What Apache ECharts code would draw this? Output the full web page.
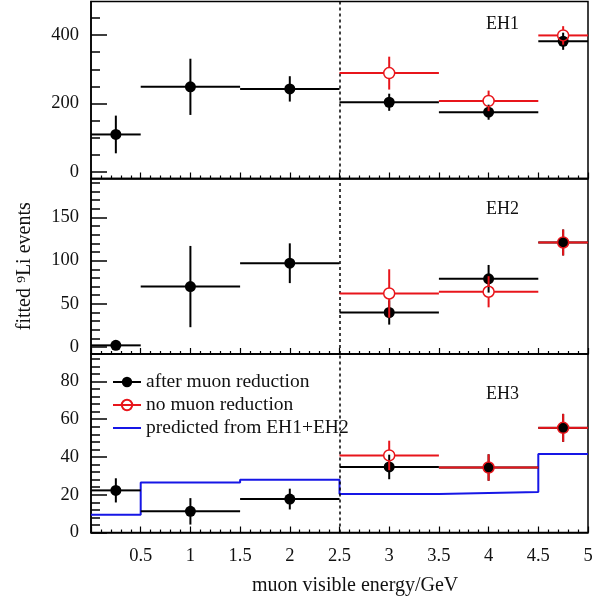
<!DOCTYPE html>
<html>
<head>
<meta charset="utf-8">
<script src="https://cdn.jsdelivr.net/npm/echarts@6/dist/echarts.min.js"></script>
<style>html,body{margin:0;padding:0;background:#fff;}#c{width:611px;height:600px;}</style>
</head>
<body>
<div id="c"></div>
<script>
// ---- data ----
const binLo = [0, 0.5, 1.5, 2.5, 3.5, 4.5];
const binHi = [0.5, 1.5, 2.5, 3.5, 4.5, 5];
const binCenter = [0.25, 1, 2, 3, 4, 4.75];

const eh1After = [110, 249, 243, 204, 175, 382];
const eh1AfterErr = [55, 82, 37, 25, 22, 25];
const eh1No = [null, null, null, 289, 208, 399];
const eh1NoErr = [null, null, null, 48, 30, 27];

const eh2After = [2, 70, 97, 40, 79, 121];
const eh2AfterErr = [3, 47, 23, 14, 16, 15];
const eh2No = [null, null, null, 62, 64, 121];
const eh2NoErr = [null, null, null, 28, 18, 15];

const eh3After = [22.3, 11.2, 17.7, 34.7, 34.4, 55.4];
const eh3AfterErr = [6.4, 7, 5.5, 6.5, 7, 7.4];
const eh3No = [null, null, null, 40.8, 34.4, 55.4];
const eh3NoErr = [null, null, null, 7.8, 7, 7.4];

const predEdges = [0, 0.5, 1.5, 2.5, 3.5, 4.5, 5];
const predEH3 = [9.4, 26.5, 27.9, 20.4, 21.4, 41.5, 41.5];

const panelLabels = ['EH1', 'EH2', 'EH3'];
const dividerX = 2.5;
const xTickLabels = ['0.5', '1', '1.5', '2', '2.5', '3', '3.5', '4', '4.5', '5'];

const yRanges = [[-18.5, 498], [-8, 195], [0, 94.5]];
const yMajor = [[0, 200, 400], [0, 50, 100, 150], [0, 20, 40, 60, 80]];
const yMinorStep = [50, 10, 4];

const NAME_A = 'after muon reduction';
const NAME_N = 'no muon reduction';
const NAME_P = 'predicted from EH1+EH2';
const BLACK = '#000000', RED = '#e8151b', BLUE = '#1616e6';
const FONT = 'Liberation Serif';

// ---- layout ----
const grids = [
  {left: 91, right: 23, top: 1.5, height: 177},
  {left: 91, right: 23, top: 178.5, height: 175.5},
  {left: 91, right: 23, top: 354, height: 178.5}
];

function errRender(color, gap) {
  return function (params, api) {
    const x = api.value(0), y = api.value(1), xl = api.value(2), xh = api.value(3), e = api.value(4);
    const c = api.coord([x, y]);
    const l = api.coord([xl, y]);
    const h = api.coord([xh, y]);
    const t = api.coord([x, y + e]);
    const b = api.coord([x, y - e]);
    const st = {stroke: color, lineWidth: 2};
    const segs = [];
    function add(x1, y1, x2, y2) {
      if (Math.abs(x2 - x1) + Math.abs(y2 - y1) > 0.5)
        segs.push({type: 'line', shape: {x1: x1, y1: y1, x2: x2, y2: y2}, style: st});
    }
    add(l[0], c[1], c[0] - gap, c[1]);
    add(c[0] + gap, c[1], h[0], c[1]);
    if (t[1] < c[1] - gap) add(c[0], t[1], c[0], c[1] - gap);
    if (b[1] > c[1] + gap) add(c[0], c[1] + gap, c[0], b[1]);
    return {type: 'group', children: segs};
  };
}

function errData(vals, errs) {
  const out = [];
  for (let i = 0; i < vals.length; i++) {
    if (vals[i] == null) continue;
    out.push([binCenter[i], vals[i], binLo[i], binHi[i], errs[i]]);
  }
  return out;
}
function ptData(vals) {
  const out = [];
  for (let i = 0; i < vals.length; i++) if (vals[i] != null) out.push([binCenter[i], vals[i]]);
  return out;
}

const panels = [
  [eh1After, eh1AfterErr, eh1No, eh1NoErr],
  [eh2After, eh2AfterErr, eh2No, eh2NoErr],
  [eh3After, eh3AfterErr, eh3No, eh3NoErr]
];

const xAxes = [], yAxes = [], series = [];
const axisFont = {fontFamily: FONT, fontSize: 18.5, color: '#111'};

panels.forEach(function (p, k) {
  xAxes.push({
    type: 'value', gridIndex: k, min: 0, max: 5, interval: 0.5,
    axisLine: {show: true, onZero: false, lineStyle: {color: BLACK, width: 1.5}},
    axisTick: {show: true, inside: true, length: 6, lineStyle: {color: BLACK, width: 1.2}},
    minorTick: {show: true, splitNumber: 5, length: 3, lineStyle: {color: BLACK, width: 1.2}},
    splitLine: {show: false},
    axisLabel: k === 2 ? Object.assign({show: true, margin: 14, showMinLabel: false,
      formatter: function (v) { const i = Math.round(v / 0.5) - 1; return i >= 0 ? xTickLabels[i] : ''; }}, axisFont)
      : {show: false}
  });
  const minors = [];
  for (let v = 0; v <= yRanges[k][1]; v += yMinorStep[k]) if (yMajor[k].indexOf(v) < 0) minors.push(v);
  yAxes.push({
    type: 'value', gridIndex: k, min: yRanges[k][0], max: yRanges[k][1], position: 'left',
    axisLine: {show: true, onZero: false, lineStyle: {color: BLACK, width: 1.5}},
    axisTick: {show: true, inside: true, length: 16, customValues: yMajor[k], lineStyle: {color: BLACK, width: 1.5}},
    axisLabel: Object.assign({show: true, margin: 12, customValues: yMajor[k]}, axisFont),
    splitLine: {show: false},
    name: k === 1 ? 'fitted \u2079Li events' : '',
    nameLocation: 'middle', nameGap: 56, nameRotate: 90,
    nameTextStyle: {fontFamily: FONT, fontSize: 20, color: '#111'}
  });
  yAxes.push({
    type: 'value', gridIndex: k, min: yRanges[k][0], max: yRanges[k][1], position: 'left', offset: 0,
    axisLine: {show: false},
    axisTick: {show: true, inside: true, length: 9, customValues: minors, lineStyle: {color: BLACK, width: 1.5}},
    axisLabel: {show: false},
    splitLine: {show: false}
  });
  const yi = 2 * k;
  series.push({
    name: NAME_A, type: 'line', xAxisIndex: k, yAxisIndex: yi, z: 4,
    data: ptData(p[0]), symbol: 'circle', symbolSize: 11, showSymbol: true,
    lineStyle: {width: 0, opacity: 0}, itemStyle: {color: BLACK},
    emphasis: {disabled: true}, silent: true,
    markLine: {silent: true, symbol: 'none', label: {show: false}, animation: false,
      lineStyle: {color: BLACK, width: 1.5, type: [3, 3]}, data: [{xAxis: dividerX}]}
  });
  series.push({
    name: NAME_N, type: 'line', xAxisIndex: k, yAxisIndex: yi, z: 6,
    data: ptData(p[2]), symbol: 'circle', symbolSize: 11, showSymbol: true,
    lineStyle: {width: 0, opacity: 0},
    itemStyle: {color: 'rgba(0,0,0,0)', borderColor: RED, borderWidth: 1.5},
    emphasis: {disabled: true}, silent: true
  });
  series.push({
    name: NAME_A, type: 'custom', xAxisIndex: k, yAxisIndex: yi, z: 3,
    renderItem: errRender(BLACK, 0), data: errData(p[0], p[1]), silent: true,
    encode: {x: 0, y: 1}
  });
  series.push({
    name: NAME_N, type: 'custom', xAxisIndex: k, yAxisIndex: yi, z: 5,
    renderItem: errRender(RED, 5.5), data: errData(p[2], p[3]), silent: true,
    encode: {x: 0, y: 1}
  });
});

series.push({
  name: NAME_P, type: 'line', xAxisIndex: 2, yAxisIndex: 4, z: 2,
  step: 'end', symbol: 'none', showSymbol: false,
  data: predEdges.map(function (x, i) { return [x, predEH3[i]]; }),
  lineStyle: {color: BLUE, width: 2}, itemStyle: {color: BLUE},
  emphasis: {disabled: true}, silent: true
});

const option = {
  animation: false,
  backgroundColor: '#fff',
  grid: grids.map(function (g) { return Object.assign({show: true, borderColor: BLACK, borderWidth: 1.5, backgroundColor: 'transparent'}, g); }),
  xAxis: xAxes,
  yAxis: yAxes,
  legend: {
    orient: 'vertical', left: 107, top: 367, itemWidth: 28, itemHeight: 13, itemGap: 3,
    selectedMode: false,
    textStyle: {fontFamily: FONT, fontSize: 19.5, color: '#111', lineHeight: 19},
    data: [
      {name: NAME_A, lineStyle: {color: BLACK, width: 2, opacity: 1}},
      {name: NAME_N, lineStyle: {color: RED, width: 2, opacity: 1}},
      {name: NAME_P, itemStyle: {opacity: 0}}
    ]
  },
  graphic: panelLabels.map(function (t, i) {
    return {type: 'text', left: 486, top: [15, 200, 385][i], silent: true,
      style: {text: t, font: '18px "Liberation Serif"', fill: '#111'}};
  }).concat([{
    type: 'text', left: 252, top: 576, silent: true,
    style: {text: 'muon visible energy/GeV', font: '20px "Liberation Serif"', fill: '#111'}
  }]),
  series: series
};

const chart = echarts.init(document.getElementById('c'), null, {renderer: 'canvas'});
chart.setOption(option);
</script>
</body>
</html>
